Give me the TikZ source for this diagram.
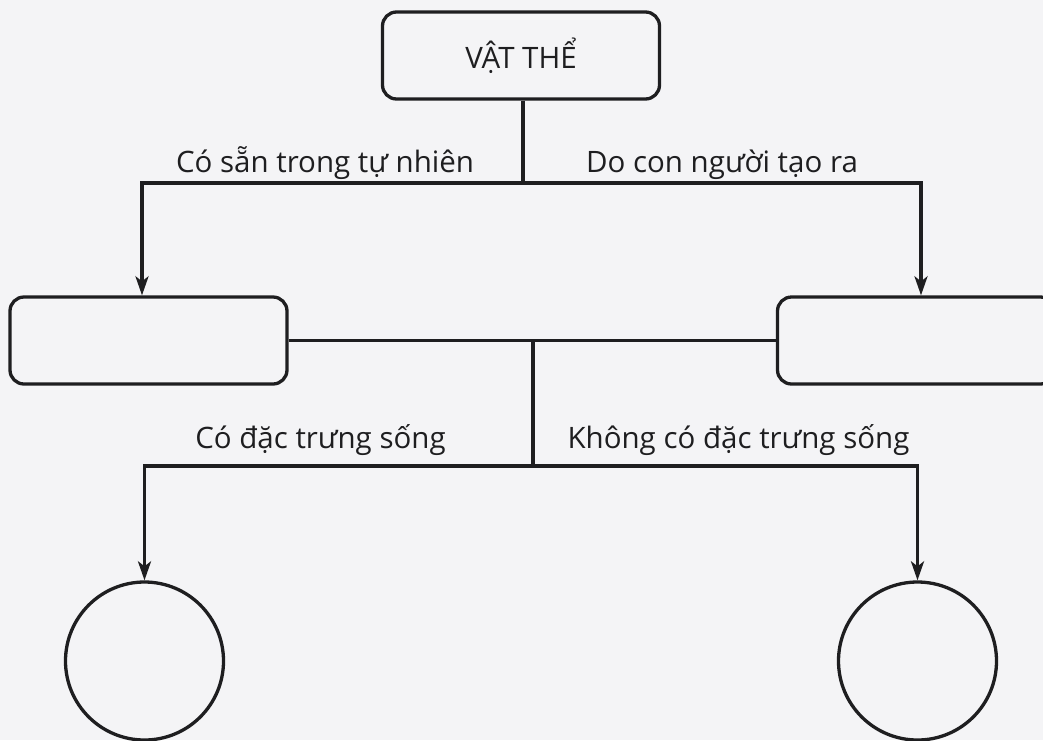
\documentclass[tikz,border=0pt]{standalone}
\usepackage{fontspec}
\setmainfont{Open Sans}
\usetikzlibrary{arrows.meta}
\definecolor{nen}{RGB}{244,244,246}
\definecolor{net}{RGB}{30,30,32}
\tikzset{
  hop/.style={draw=net,rounded corners=14pt,minimum width=277pt,minimum height=87pt,inner sep=0pt},
  tron/.style={draw=net,circle,minimum size=158pt,inner sep=0pt},
  nhan/.style={anchor=base,text=net,inner sep=0pt,font=\fontsize{29.5}{34}\selectfont},
  mui/.style={-{Stealth[length=19pt,width=13pt,inset=5pt]}}
}
\begin{document}
\begin{tikzpicture}[x=1pt,y=-1pt,line width=3.3pt,draw=net]
  \fill[nen] (0,0) rectangle (1043,740);
  \useasboundingbox (0,0) rectangle (1043,740);
  \clip (0,0) rectangle (1043,740);
  % boxes and circles
  \node[hop,text=net,font=\fontsize{29.5}{34}\selectfont] (vatthe) at (521,55.5) {VẬT THỂ};
  \node[hop] (tunhien) at (148.5,340.5) {};
  \node[hop] (nhantao) at (916,340.5) {};
  \node[tron] (song) at (144.5,661) {};
  \node[tron] (khongsong) at (917.5,661) {};
  % first split
  \coordinate (tach1) at (523,183);
  \draw (vatthe.south -| tach1) -- (tach1);
  \draw[mui] (tach1) -| (tunhien.north -| 142,0);
  \draw[mui] (tach1) -| (nhantao.north -| 921,0);
  \node[nhan] (conhien) at (325,172) {Có sẵn trong tự nhiên};
  \node[nhan] (connguoi) at (722,172) {Do con người tạo ra};
  % second split
  \draw (tunhien.east) -- (nhantao.west);
  \coordinate (tach2) at (533,466);
  \draw (tach2 |- tunhien.east) -- (tach2);
  \draw[mui] (tach2) -| (song.north);
  \draw[mui] (tach2) -| (khongsong.north);
  \node[nhan] (cosong) at (320.5,448) {Có đặc trưng sống};
  \node[nhan] (kosong) at (738.5,448) {Không có đặc trưng sống};
\end{tikzpicture}
\end{document}
